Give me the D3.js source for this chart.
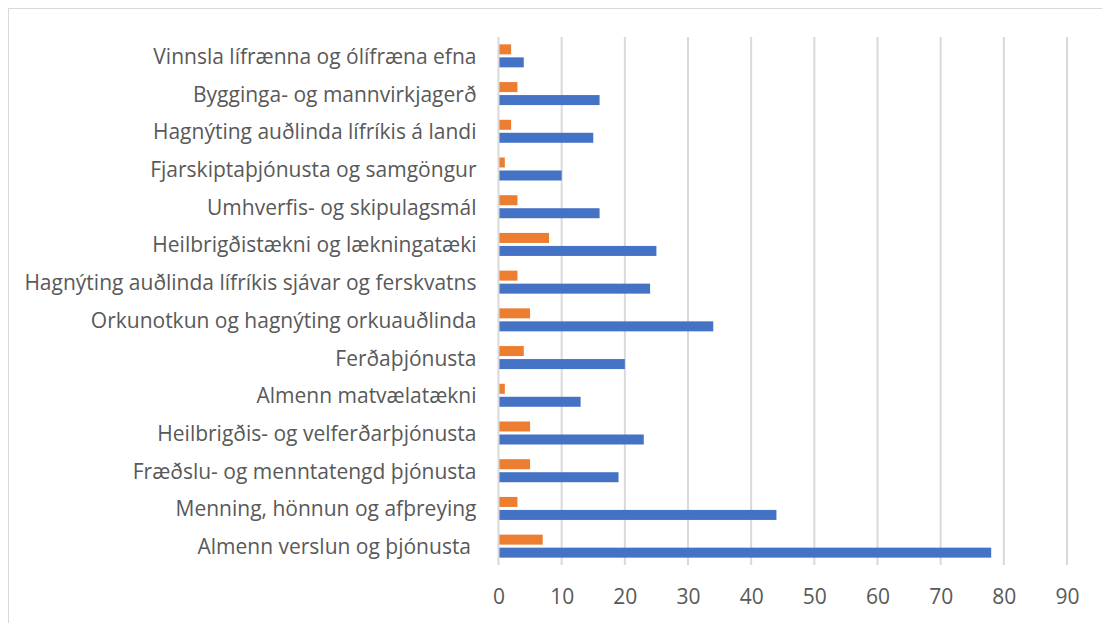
<!doctype html>
<html lang="is">
<head>
<meta charset="utf-8">
<script src="https://cdnjs.cloudflare.com/ajax/libs/d3/7.8.5/d3.min.js"></script>
<style>
    body { margin: 0; background: #fff; }
    text { font-family: "Open Sans", Lato, sans-serif; fill: #595959; white-space: pre; }
</style>
</head>
<body>
<div id="chart"></div>
<script>
// categories, top to bottom as drawn
var categories = [
    "Vinnsla lífrænna og ólífræna efna",
    "Bygginga- og mannvirkjagerð",
    "Hagnýting auðlinda lífríkis á landi",
    "Fjarskiptaþjónusta og samgöngur",
    "Umhverfis- og skipulagsmál",
    "Heilbrigðistækni og lækningatæki",
    "Hagnýting auðlinda lífríkis sjávar og ferskvatns",
    "Orkunotkun og hagnýting orkuauðlinda",
    "Ferðaþjónusta",
    "Almenn matvælatækni",
    "Heilbrigðis- og velferðarþjónusta",
    "Fræðslu- og menntatengd þjónusta",
    "Menning, hönnun og afþreying",
    "Almenn verslun og þjónusta "
];
var blueValues   = [4, 16, 15, 10, 16, 25, 24, 34, 20, 13, 23, 19, 44, 78];
var orangeValues = [2, 3, 2, 1, 3, 8, 3, 5, 4, 1, 5, 5, 3, 7];
var tickValues = [0, 10, 20, 30, 40, 50, 60, 70, 80, 90];

var width = 1102, height = 623;
var margin = { top: 37, right: 35, bottom: 58, left: 498.5 };
var plotW = width - margin.left - margin.right;
var plotH = height - margin.top - margin.bottom;

var svg = d3.select("#chart").append("svg")
    .attr("width", width)
    .attr("height", height);

// outer chart border
svg.append("rect")
    .attr("x", 8.5).attr("y", 8.5)
    .attr("width", width).attr("height", height)
    .attr("fill", "none")
    .attr("stroke", "#d9d9d9");

var g = svg.append("g")
    .attr("transform", "translate(" + margin.left + "," + margin.top + ")");

var x = d3.scaleLinear().domain([0, 90]).range([0, plotW]);
var y = d3.scaleBand().domain(categories).range([0, plotH]);

// gridlines
g.selectAll("line.grid")
    .data(tickValues.slice(1))
    .enter().append("line")
    .attr("class", "grid")
    .attr("x1", function(d) { return x(d); })
    .attr("x2", function(d) { return x(d); })
    .attr("y1", 0).attr("y2", plotH)
    .attr("stroke", "#d9d9d9")
    .attr("stroke-width", 2);

var barH = 10, gap = 3;

g.selectAll("rect.orange")
    .data(orangeValues)
    .enter().append("rect")
    .attr("class", "orange")
    .attr("x", x(0))
    .attr("y", function(d, i) { return y(categories[i]) + y.bandwidth() / 2 - gap / 2 - barH; })
    .attr("width", function(d) { return x(d) - x(0); })
    .attr("height", barH)
    .attr("fill", "#ed7d31");

g.selectAll("rect.blue")
    .data(blueValues)
    .enter().append("rect")
    .attr("class", "blue")
    .attr("x", x(0))
    .attr("y", function(d, i) { return y(categories[i]) + y.bandwidth() / 2 + gap / 2; })
    .attr("width", function(d) { return x(d) - x(0); })
    .attr("height", barH)
    .attr("fill", "#4472c4");

// vertical axis line
g.append("line")
    .attr("x1", 0).attr("x2", 0)
    .attr("y1", 0).attr("y2", plotH)
    .attr("stroke", "#d9d9d9")
    .attr("stroke-width", 2);

// category labels
var yAxis = d3.axisLeft(y).tickSize(0).tickPadding(22);
g.append("g")
    .call(yAxis)
    .call(function(s) { s.select(".domain").remove(); })
    .selectAll("text")
    .attr("dy", "0.38em")
    .style("font-size", "21px")
    .attr("fill", "#595959");

// value axis
var xAxis = d3.axisBottom(x).tickValues(tickValues).tickSize(0).tickPadding(24);
g.append("g")
    .attr("transform", "translate(0," + plotH + ")")
    .call(xAxis)
    .call(function(s) { s.select(".domain").remove(); })
    .selectAll("text")
    .style("font-size", "21px")
    .attr("fill", "#595959");
</script>
</body>
</html>
